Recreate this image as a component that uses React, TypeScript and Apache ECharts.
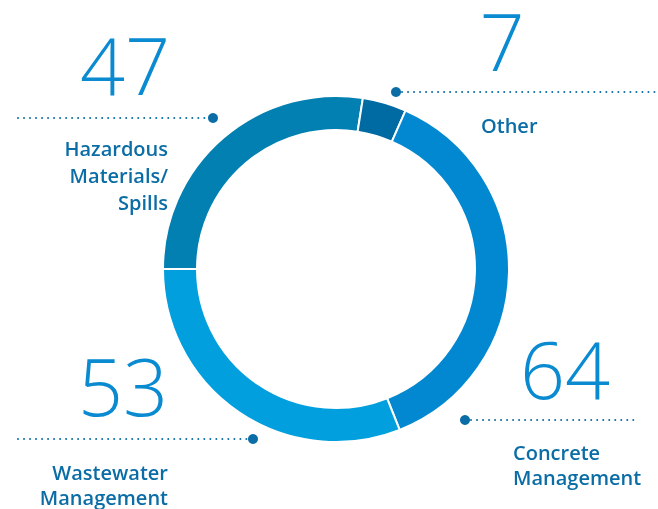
import React, { useEffect, useRef } from "react";
import * as echarts from "echarts";

const categories = ["Hazardous Materials/ Spills", "Other", "Concrete Management", "Wastewater Management"];
const values = [47, 7, 64, 53];
const sliceColors = ["#0180B1", "#006AA3", "#0288D0", "#019FDE"];
const labelLines = [["Hazardous", "Materials/", "Spills"], ["Other"], ["Concrete", "Management"], ["Wastewater", "Management"]];

const NUM_COLOR = "#0A8AD0";
const LABEL_COLOR = "#0B6DA6";
const LABEL_FONT = '600 20px "Open Sans", sans-serif';
const NUM_FONT = '300 79px "Open Sans", sans-serif';

export default function App() {
  const ref = useRef<HTMLDivElement>(null);
  useEffect(() => {
    if (!ref.current) return;
    const chart = echarts.init(ref.current, null, { renderer: "svg" });

    const ann = [
      { nx: 125, ny: 64, lx1: 18, lx2: 213, dx: 213, ly: 118, tx: 168, ty: 175, ta: "right", lh: 27 },
      { nx: 502, ny: 40, lx1: 396, lx2: 656, dx: 396, ly: 92, tx: 481, ty: 125, ta: "left", lh: 26 },
      { nx: 565, ny: 368, lx1: 465, lx2: 636, dx: 465, ly: 420, tx: 513, ty: 464.5, ta: "left", lh: 25 },
      { nx: 123, ny: 385, lx1: 18, lx2: 253, dx: 253, ly: 439, tx: 168, ty: 484.5, ta: "right", lh: 25 },
    ];

    const graphics: any[] = [];
    ann.forEach((a, i) => {
      graphics.push({
        type: "text",
        style: { x: a.nx, y: a.ny, text: String(values[i]), font: NUM_FONT, fill: NUM_COLOR, lineHeight: 58, textAlign: "center", textVerticalAlign: "middle", align: "center", verticalAlign: "middle" },
      });
      graphics.push({
        type: "line",
        shape: { x1: a.lx1, y1: a.ly, x2: a.lx2, y2: a.ly },
        style: { stroke: LABEL_COLOR, lineWidth: 2, lineDash: [0.01, 6], lineCap: "round" },
      });
      graphics.push({
        type: "circle",
        shape: { cx: a.dx, cy: a.ly, r: 5 },
        style: { fill: LABEL_COLOR },
      });
      graphics.push({
        type: "text",
        style: { x: a.tx, y: a.ty, text: labelLines[i].join("\n"), font: LABEL_FONT, fill: LABEL_COLOR, lineHeight: a.lh, textAlign: a.ta, textVerticalAlign: "middle", align: a.ta, verticalAlign: "middle" },
      });
    });

    chart.setOption({
      animation: false,
      series: [
        {
          type: "pie",
          center: [336, 269],
          radius: [139, 173],
          startAngle: 180,
          clockwise: true,
          label: { show: false },
          labelLine: { show: false },
          emphasis: { disabled: true },
          itemStyle: { borderColor: "#ffffff", borderWidth: 2 },
          data: categories.map((c, i) => ({ name: c, value: values[i], itemStyle: { color: sliceColors[i] } })),
        },
      ],
      graphic: graphics,
    });
    return () => chart.dispose();
  }, []);
  return <div ref={ref} style={{ position: "fixed", left: 0, top: 0, width: 658, height: 509 }} />;
}
